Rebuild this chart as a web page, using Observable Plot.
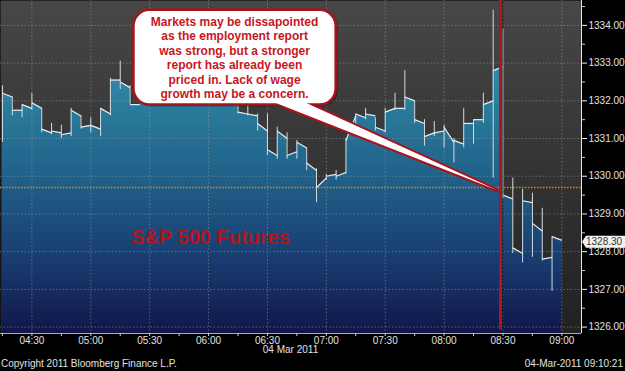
<!DOCTYPE html>
<html><head><meta charset="utf-8">
<script src="https://cdn.jsdelivr.net/npm/d3@7"></script>
<script src="https://cdn.jsdelivr.net/npm/@observablehq/plot@0.6"></script>
<style>html,body{margin:0;padding:0;background:#000;}#chart{width:625px;height:371px;overflow:hidden;}</style>
</head><body><div id="chart"></div>
<script>
// ---- data (5-minute bars, S&P 500 futures, 04 Mar 2011) ----
const barTimes = ["04:15","04:20","04:25","04:30","04:35","04:40","04:45","04:50","04:55","05:00",
  "05:05","05:10","05:15","05:20","05:25","05:30","05:35","05:40","05:45","05:50",
  "05:55","06:00","06:05","06:10","06:15","06:20","06:25","06:30","06:35","06:40",
  "06:45","06:50","06:55","07:00","07:05","07:10","07:15","07:20","07:25","07:30",
  "07:35","07:40","07:45","07:50","07:55","08:00","08:05","08:10","08:15","08:20",
  "08:25","08:30","08:35","08:40","08:45","08:50","08:55"];
const opens = [1332.20,1331.75,1331.90,1331.95,1331.25,1331.20,1331.10,1331.75,1331.30,1331.35,
  1331.80,1332.55,1332.50,1331.90,1332.15,1332.30,1332.10,1332.35,1332.20,1332.05,
  1332.15,1332.05,1332.15,1332.00,1331.70,1331.65,1331.40,1330.70,1331.20,1330.55,
  1330.90,1330.35,1329.70,1330.00,1330.00,1330.95,1331.65,1331.65,1331.30,1331.70,
  1331.80,1332.10,1331.50,1331.05,1331.15,1331.30,1330.95,1331.40,1331.50,1331.90,
  1332.80,1329.50,1328.10,1329.35,1328.75,1327.80,1328.40];
const closes = [1332.10,1331.75,1331.80,1331.80,1331.15,1331.15,1331.15,1331.60,1331.35,1331.25,
  1331.65,1332.55,1332.35,1331.90,1332.20,1332.15,1332.20,1332.30,1332.10,1332.10,
  1332.10,1332.00,1332.05,1332.10,1331.65,1331.60,1331.20,1330.55,1331.00,1330.65,
  1330.75,1330.15,1329.95,1330.05,1330.10,1331.60,1331.55,1331.60,1331.20,1331.80,
  1331.80,1332.00,1331.40,1331.15,1331.20,1330.90,1330.85,1331.40,1331.50,1332.00,
  1332.90,1329.40,1327.95,1329.30,1328.55,1327.85,1328.30];
const highs = [1332.40,1332.10,1331.90,1332.20,1331.80,1331.40,1331.35,1331.80,1331.60,1331.55,
  1331.80,1332.60,1333.05,1332.40,1332.35,1332.45,1332.30,1332.55,1332.35,1332.20,
  1332.40,1332.30,1332.35,1332.20,1332.10,1332.00,1331.65,1331.65,1331.30,1331.15,
  1330.95,1330.75,1330.20,1330.05,1330.15,1331.00,1331.65,1331.80,1331.55,1331.80,
  1332.20,1332.80,1332.00,1331.50,1331.45,1331.35,1331.00,1331.80,1331.50,1332.20,
  1334.40,1333.90,1329.95,1329.65,1329.55,1329.15,1328.40];
const lows = [1330.90,1331.60,1331.55,1331.75,1331.15,1331.10,1331.00,1331.05,1331.25,1331.15,
  1331.05,1331.60,1332.30,1331.90,1332.05,1332.10,1332.00,1332.15,1332.00,1331.95,
  1332.00,1331.95,1332.00,1331.95,1331.65,1331.60,1331.20,1330.55,1330.45,1330.45,
  1330.45,1330.15,1329.30,1329.90,1329.90,1330.05,1331.25,1331.50,1331.20,1331.15,
  1331.75,1331.75,1331.40,1330.80,1331.05,1330.75,1330.35,1330.75,1330.85,1331.40,
  1329.95,1329.40,1327.95,1327.70,1327.85,1327.75,1326.95];
const yTicks = [1326,1327,1328,1329,1330,1331,1332,1333,1334];
const xLabelTicks = ["04:30","05:00","05:30","06:00","06:30","07:00","07:30","08:00","08:30","09:00"];
const refLevel = 1329.70;
const eventTime = "08:29";
const lastValue = 1328.30;
const seriesLabel = "S&P 500 Futures";
const calloutLines = ["Markets may be dissapointed","as the employment report","was strong, but a stronger",
  "report has already been","priced in. Lack of wage","growth may be a concern."];
const dateLabel = "04 Mar 2011";
const copyrightLabel = "Copyright 2011 Bloomberg Finance L.P.";
const stampLabel = "04-Mar-2011 09:10:21";

// ---- helpers ----
const toMin = s => { const [h, m] = s.split(":").map(Number); return h * 60 + m; };
const fmtTime = m => String(Math.floor(m / 60)).padStart(2, "0") + ":" + String(m % 60).padStart(2, "0");
const NS = "http://www.w3.org/2000/svg";
function el(tag, attrs, text) {
  const e = document.createElementNS(NS, tag);
  for (const k in attrs) e.setAttribute(k, attrs[k]);
  if (text != null) e.textContent = text;
  return e;
}
const FONT = "'Liberation Sans', Arial, sans-serif";

const xDomain = [toMin("04:14"), toMin("09:10")];
const yDomain = [1325.83, 1334.66];
const bars = barTimes.map((t, i) => ({t: toMin(t), o: opens[i], c: closes[i], h: highs[i], l: lows[i]}));
const pts = bars.flatMap(b => [{x: b.t, y: b.o}, {x: b.t + 5, y: b.c}]);
const quarterTicks = d3.range(toMin("04:15"), toMin("09:15"), 15);
const halfTicks = yTicks.map(v => v + 0.5);

// annotation anchors (data coordinates)
const callout = {x1: "05:22", x2: "07:05", top: 1334.40, bottom: 1331.89,
  tailX1: "06:31", tailX2: "06:47", tailY: 1332.0, tipX: "08:27", tipY: 1329.62};

const defsMark = () => {
  const g = el("g", {});
  const defs = el("defs", {});
  const bg = el("linearGradient", {id: "bgGrad", gradientUnits: "userSpaceOnUse", x1: 0, y1: 0, x2: 0, y2: 333});
  bg.append(el("stop", {offset: 0, "stop-color": "#474747"}), el("stop", {offset: 1, "stop-color": "#212121"}));
  const ag = el("linearGradient", {id: "areaGrad", gradientUnits: "userSpaceOnUse", x1: 0, y1: 0, x2: 0, y2: 333});
  [[0, "#3f9dc0"], [0.3, "#2b7e9e"], [0.56, "#1f5d86"], [0.78, "#193c70"], [1, "#11164a"]]
    .forEach(([o, c]) => ag.append(el("stop", {offset: o, "stop-color": c})));
  defs.append(bg, ag);
  g.append(defs);
  return g;
};

const eventLineMark = (index, scales) => {
  const x = scales.x(toMin(eventTime));
  const g = el("g", {});
  g.append(el("line", {x1: x + 2, x2: x + 2, y1: scales.y(yDomain[1]), y2: scales.y(1325.92), stroke: "rgba(0,0,0,0.35)", "stroke-width": 2}));
  g.append(el("line", {x1: x, x2: x, y1: scales.y(yDomain[1]), y2: scales.y(1325.92), stroke: "#b3131b", "stroke-width": 3}));
  return g;
};

const calloutMark = (index, scales) => {
  const x = scales.x, y = scales.y;
  const bx1 = x(toMin(callout.x1)), bx2 = x(toMin(callout.x2));
  const by1 = y(callout.top), by2 = y(callout.bottom);
  const t1 = [x(toMin(callout.tailX1)), y(callout.tailY)];
  const t2 = [x(toMin(callout.tailX2)), y(callout.tailY)];
  const tip = [x(toMin(callout.tipX)), y(callout.tipY)];
  const poly = `${t1[0]},${t1[1]} ${t2[0]},${t2[1]} ${tip[0]},${tip[1]}`;
  const g = el("g", {});
  g.append(el("polygon", {points: poly, fill: "#fff", stroke: "#a8141c", "stroke-width": 4, "stroke-linejoin": "round"}));
  g.append(el("rect", {x: bx1 + 2, y: by1 + 2, width: bx2 - bx1, height: by2 - by1, rx: 16, ry: 16, fill: "rgba(0,0,0,0.35)"}));
  g.append(el("rect", {x: bx1, y: by1, width: bx2 - bx1, height: by2 - by1, rx: 16, ry: 16, fill: "#fff", stroke: "#a8141c", "stroke-width": 2.5}));
  g.append(el("polygon", {points: poly, fill: "#fff"}));
  const cx = (bx1 + bx2) / 2;
  const lh = (by2 - by1 - 22) / (calloutLines.length - 1);
  calloutLines.forEach((s, i) => {
    g.append(el("text", {x: cx, y: by1 + 12 + i * lh, "text-anchor": "middle", "dominant-baseline": "central",
      "font-family": FONT, "font-size": 12, "font-weight": "bold", fill: "#c8161e"}, s));
  });
  return g;
};

const lastValueMark = (index, scales) => {
  const x = scales.x, y = scales.y;
  const x0 = x(xDomain[1]), yv = y(lastValue) + 2;
  const g = el("g", {});
  g.append(el("polygon", {points: `${x0 + 1},${yv} ${x0 + 5},${yv - 6} 625,${yv - 6} 625,${yv + 6} ${x0 + 5},${yv + 6}`, fill: "#f2f2f2"}));
  g.append(el("text", {x: x0 + 5, y: yv, "text-anchor": "start", "dominant-baseline": "central", "font-family": FONT, "font-size": 10, fill: "#333"}, lastValue.toFixed(2)));
  return g;
};

const footerMark = (index, scales, values, dims) => {
  const g = el("g", {"font-family": FONT, "font-size": 10, fill: "#e2e2e2"});
  const cx = (dims.marginLeft + dims.width - dims.marginRight) / 2;
  g.append(el("text", {x: cx, y: dims.height - 18, "text-anchor": "middle"}, dateLabel));
  g.append(el("text", {x: 1, y: dims.height - 4, "text-anchor": "start"}, copyrightLabel));
  g.append(el("text", {x: dims.width - 2, y: dims.height - 4, "text-anchor": "end"}, stampLabel));
  return g;
};

const gridStyle = {stroke: "#a0a0a0", strokeOpacity: 0.5, strokeDasharray: "1.5,2"};

const chart = Plot.plot({
  width: 625, height: 371,
  marginTop: 0, marginLeft: 0, marginRight: 44, marginBottom: 38,
  style: {background: "#000", color: "#e0e0e0", fontFamily: FONT, fontSize: "10px", overflow: "hidden"},
  x: {domain: xDomain, label: null},
  y: {domain: yDomain, label: null},
  marks: [
    defsMark,
    Plot.frame({fill: "url(#bgGrad)", stroke: null}),
    Plot.areaY(pts, {x: "x", y1: yDomain[0], y2: "y", fill: "url(#areaGrad)", curve: "linear"}),
    Plot.gridY(yTicks, gridStyle),
    Plot.gridX(xLabelTicks.map(toMin), gridStyle),
    Plot.ruleY([refLevel], {stroke: "#d8842a", strokeWidth: 1.5, strokeDasharray: "1.5,1.5"}),
    Plot.ruleX(bars, {x: "t", y1: "l", y2: "h", stroke: "#d4dbe2", strokeWidth: 1}),
    Plot.link(bars, {x1: "t", y1: "o", x2: d => d.t + 5, y2: "c", stroke: "#e8eef2", strokeWidth: 1.2}),
    eventLineMark,
    Plot.text([seriesLabel], {x: toMin("06:01"), y: 1328.37, text: d => d, fontSize: 20, fontWeight: "bold", fill: "#b3141c"}),
    calloutMark,
    Plot.ruleX([xDomain[1]], {stroke: "#e8e8e8", strokeWidth: 1}),
    Plot.ruleY([yDomain[0]], {stroke: "#b0b0b0", strokeWidth: 1}),
    Plot.axisY(yTicks, {anchor: "right", tickSize: 5, tickPadding: 2, tickFormat: d => d.toFixed(2), stroke: "#f0f0f0", fill: "#e0e0e0", label: null}),
    Plot.axisY(halfTicks, {anchor: "right", tickSize: 3, tickFormat: () => "", stroke: "#cfcfcf", label: null}),
    Plot.axisX(xLabelTicks.map(toMin), {anchor: "bottom", tickSize: 0, tickPadding: 3, tickFormat: fmtTime, fill: "#e0e0e0", label: null}),
    Plot.axisX(quarterTicks, {anchor: "bottom", tickSize: 3, tickFormat: () => "", stroke: "#d0d0d0", label: null}),
    lastValueMark,
    footerMark
  ]
});
document.getElementById("chart").append(chart);
</script>
</body></html>
